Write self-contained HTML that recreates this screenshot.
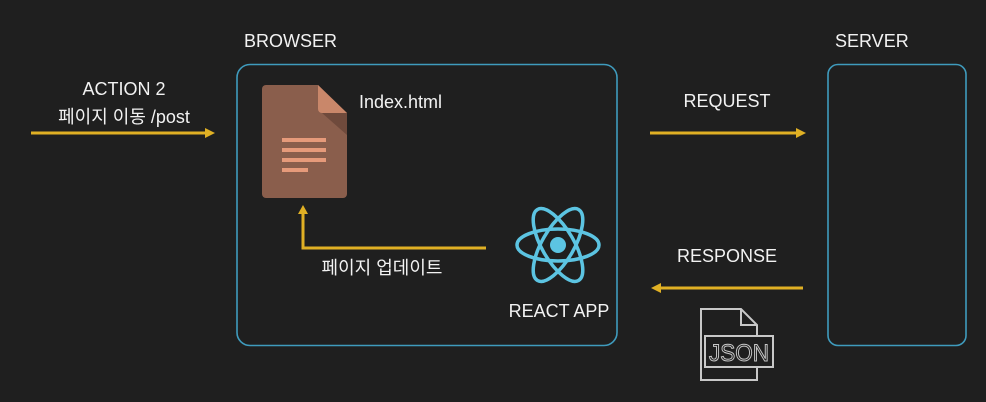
<!DOCTYPE html>
<html><head><meta charset="utf-8"><style>
html,body{margin:0;padding:0;background:#1f1f1f;}
svg{display:block}
text{font-family:"Liberation Sans","Noto Sans CJK KR",sans-serif;fill:#f2f2f2;}
</style></head><body>
<svg width="986" height="402" viewBox="0 0 986 402" xmlns="http://www.w3.org/2000/svg">
<rect width="986" height="402" fill="#1f1f1f"/>
<text x="244" y="47" font-size="18">BROWSER</text>
<text x="835" y="47" font-size="18">SERVER</text>
<rect x="237" y="64.5" width="380" height="281" rx="13" fill="none" stroke="#3f9bbd" stroke-width="1.6"/>
<rect x="828" y="64.5" width="138" height="281" rx="10" fill="none" stroke="#3f9bbd" stroke-width="1.6"/>
<text x="124" y="95" font-size="18" text-anchor="middle">ACTION 2</text>
<text x="124" y="123" font-size="18" text-anchor="middle">페이지 이동 /post</text>
<line x1="31" y1="133" x2="208" y2="133" stroke="#e0b024" stroke-width="3"/>
<polygon points="215,133 205,128 205,138" fill="#e0b024"/>
<text x="727" y="107" font-size="18" text-anchor="middle">REQUEST</text>
<line x1="650" y1="133" x2="798" y2="133" stroke="#e0b024" stroke-width="3"/>
<polygon points="806,133 796,128 796,138" fill="#e0b024"/>
<text x="727" y="262" font-size="18" text-anchor="middle">RESPONSE</text>
<line x1="660" y1="288" x2="803" y2="288" stroke="#e0b024" stroke-width="3"/>
<polygon points="651,288 661,283 661,293" fill="#e0b024"/>
<path d="M266,85 H318 L347,113 V194 a4,4 0 0 1 -4,4 H266 a4,4 0 0 1 -4,-4 V89 a4,4 0 0 1 4,-4Z" fill="#8a5e4c"/>
<path d="M318,85 L347,113 H322 a4,4 0 0 1 -4,-4Z" fill="#c9876a"/>
<path d="M322,113 L347,113 L347,135Z" fill="#6f4a3c"/>
<g fill="#e69a7a"><rect x="282" y="138" width="44" height="4"/><rect x="282" y="148" width="44" height="4"/><rect x="282" y="158" width="44" height="4"/><rect x="282" y="168" width="26" height="4"/></g>
<text x="359" y="108" font-size="18">Index.html</text>
<polyline points="486,248 303,248 303,212" fill="none" stroke="#e0b024" stroke-width="3"/>
<polygon points="303,205 298,214 308,214" fill="#e0b024"/>
<text x="382" y="274" font-size="18" text-anchor="middle">페이지 업데이트</text>
<g transform="translate(558,245)" fill="none" stroke="#5cc4e2" stroke-width="3.5">
<ellipse rx="41" ry="16"/>
<ellipse rx="41" ry="16" transform="rotate(60)"/>
<ellipse rx="41" ry="16" transform="rotate(120)"/>
<circle r="8" fill="#5cc4e2" stroke="none"/>
</g>
<text x="559" y="317" font-size="18" text-anchor="middle">REACT APP</text>
<g fill="none" stroke="#c8c8c8" stroke-width="2">
<path d="M701,309 H741 L757,325 V380 H701Z"/>
<path d="M741,309 V325 H757"/>
<rect x="705" y="336" width="68" height="31" fill="#1f1f1f"/>
</g>
<text x="709" y="361" font-size="24" textLength="60" lengthAdjust="spacingAndGlyphs" stroke="#c8c8c8" stroke-width="1" style="fill:none">JSON</text>
</svg>
</body></html>
